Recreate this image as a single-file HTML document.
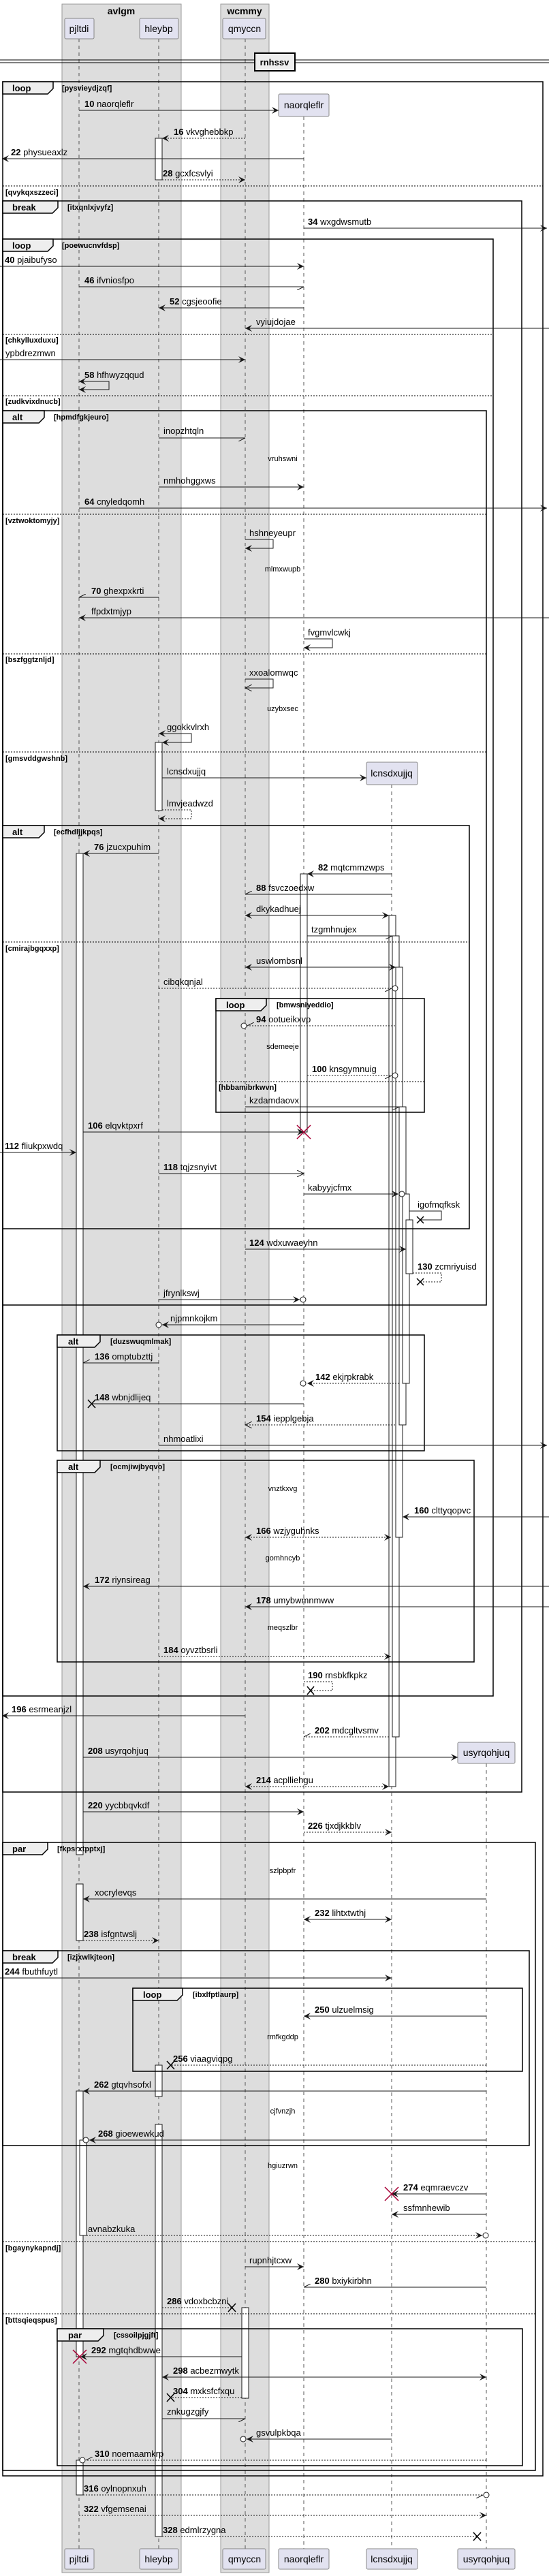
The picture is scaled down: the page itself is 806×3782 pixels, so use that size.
<!DOCTYPE html>
<html><head><meta charset="utf-8">
<style>
html,body{margin:0;padding:0;background:#fff;}
svg{display:block;}
text{font-family:"Liberation Sans",sans-serif;font-size:13px;fill:#000;}
.s{stroke:#181818;stroke-width:1;fill:none;}
.d{stroke:#181818;stroke-width:1;fill:none;stroke-dasharray:2,2;}
.ll{stroke:#555;stroke-width:1;stroke-dasharray:5,5;}
.fr{stroke:#000;stroke-width:1.5;fill:none;}
.sep{stroke:#000;stroke-width:1;stroke-dasharray:2,2;}
.g{font-size:11px;font-weight:bold;}
.dl{font-size:11px;text-anchor:middle;}
.act{fill:#fff;stroke:#181818;stroke-width:1;}
.pb{fill:#e2e2f0;stroke:#888;stroke-width:1;}
.pt{font-size:14px;text-anchor:middle;}
.tab{fill:#eee;stroke:#000;stroke-width:1.5;}
.tl{font-size:13px;font-weight:bold;}
.x{stroke:#000;stroke-width:1.5;}
.rx{stroke:#a80036;stroke-width:1.5;}
</style></head><body>
<svg width="806" height="3782" viewBox="0 0 806 3782" xmlns="http://www.w3.org/2000/svg">
<defs>
<marker id="af" markerUnits="userSpaceOnUse" markerWidth="12" markerHeight="10" refX="10" refY="5" orient="auto-start-reverse"><path d="M0,0 L10,5 L0,10 L4,5 Z" fill="#181818"/></marker>
<marker id="ao" markerUnits="userSpaceOnUse" markerWidth="12" markerHeight="10" refX="10" refY="5" orient="auto-start-reverse"><path d="M0,0 L10,5 L0,10" fill="none" stroke="#181818"/></marker>
<marker id="ah" markerUnits="userSpaceOnUse" markerWidth="12" markerHeight="10" refX="10" refY="5" orient="auto-start-reverse"><path d="M10,5 L0,10" fill="none" stroke="#181818"/></marker>
</defs>

<!-- groups -->
<rect x="91" y="6" width="175" height="3771" fill="#ddd" stroke="#999"/>
<rect x="324" y="6" width="71" height="3771" fill="#ddd" stroke="#999"/>
<text x="178" y="21" text-anchor="middle" style="font-weight:bold;font-size:14px">avlgm</text>
<text x="359" y="21" text-anchor="middle" style="font-weight:bold;font-size:14px">wcmmy</text>

<!-- lifelines -->
<line class="ll" x1="116" y1="57" x2="116" y2="3742"/>
<line class="ll" x1="233" y1="57" x2="233" y2="3742"/>
<line class="ll" x1="360" y1="57" x2="360" y2="3742"/>
<line class="ll" x1="446" y1="171" x2="446" y2="3742"/>
<line class="ll" x1="575" y1="1152" x2="575" y2="3742"/>
<line class="ll" x1="714" y1="2589" x2="714" y2="3742"/>

<!-- participants top -->
<rect class="pb" x="95" y="27" width="43" height="30" rx="2"/><text class="pt" x="116" y="47">pjltdi</text>
<rect class="pb" x="205" y="27" width="57" height="30" rx="2"/><text class="pt" x="233" y="47">hleybp</text>
<rect class="pb" x="327" y="27" width="63" height="30" rx="2"/><text class="pt" x="359" y="47">qmyccn</text>
<!-- bottom -->
<rect class="pb" x="95" y="3742" width="43" height="30" rx="2"/><text class="pt" x="116" y="3762">pjltdi</text>
<rect class="pb" x="205" y="3742" width="57" height="30" rx="2"/><text class="pt" x="233" y="3762">hleybp</text>
<rect class="pb" x="327" y="3742" width="63" height="30" rx="2"/><text class="pt" x="359" y="3762">qmyccn</text>
<rect class="pb" x="409" y="3742" width="74" height="30" rx="2"/><text class="pt" x="446" y="3762">naorqleflr</text>
<rect class="pb" x="538" y="3742" width="75" height="30" rx="2"/><text class="pt" x="575" y="3762">lcnsdxujjq</text>
<rect class="pb" x="672" y="3742" width="84" height="30" rx="2"/><text class="pt" x="714" y="3762">usyrqohjuq</text>
<!-- created -->
<rect class="pb" x="409" y="138" width="74" height="33" rx="2"/><text class="pt" x="446" y="159">naorqleflr</text>
<rect class="pb" x="538" y="1119" width="75" height="33" rx="2"/><text class="pt" x="575" y="1140">lcnsdxujjq</text>
<rect class="pb" x="672" y="2558" width="84" height="31" rx="2"/><text class="pt" x="714" y="2578">usyrqohjuq</text>

<!-- divider -->
<line x1="0" y1="88" x2="806" y2="88" stroke="#000"/>
<line x1="0" y1="92" x2="806" y2="92" stroke="#000"/>
<rect x="374" y="78" width="59" height="26" fill="#eee" stroke="#000" stroke-width="2"/>
<text x="403" y="96" text-anchor="middle" style="font-weight:bold">rnhssv</text>

<!-- activations -->
<rect class="act" x="228" y="203" width="10" height="61"/>
<rect class="act" x="228" y="1090" width="10" height="100"/>
<rect class="act" x="112" y="1253" width="10" height="1470"/>
<rect class="act" x="441" y="1283" width="10" height="379"/>
<rect class="act" x="571" y="1344" width="10" height="1279"/>
<rect class="act" x="576" y="1374" width="10" height="1176"/>
<rect class="act" x="581" y="1420" width="10" height="837"/>
<rect class="act" x="586" y="1625" width="10" height="467"/>
<rect class="act" x="591" y="1753" width="10" height="278"/>
<rect class="act" x="596" y="1791" width="10" height="79"/>
<rect class="act" x="112" y="2766" width="10" height="83"/>
<rect class="act" x="228" y="3032" width="10" height="46"/>
<rect class="act" x="112" y="3070" width="10" height="390"/>
<rect class="act" x="228" y="3119" width="10" height="605"/>
<rect class="act" x="117" y="3142" width="10" height="140"/>
<rect class="act" x="355" y="3388" width="10" height="133"/>
<rect class="act" x="112" y="3612" width="10" height="51"/>

<!-- frames -->
<!-- outer loop -->
<rect class="fr" x="4" y="120" width="793" height="3515"/>
<path class="tab" d="M4,120 H78 V130 L70,138 H4 Z"/><text class="tl" x="18" y="134">loop</text>
<text class="g" x="91" y="133">[pysvieydjzqf]</text>
<line class="sep" x1="4" y1="273" x2="797" y2="273"/>
<text class="g" x="8" y="286">[qvykqxszzeci]</text>
<!-- break -->
<rect class="fr" x="4" y="295" width="762" height="2336"/>
<path class="tab" d="M4,295 H85 V305 L77,313 H4 Z"/><text class="tl" x="18" y="309">break</text>
<text class="g" x="99" y="308">[itxqnlxjvyfz]</text>
<!-- loop poewucnvfdsp -->
<rect class="fr" x="4" y="351" width="720" height="2139"/>
<path class="tab" d="M4,351 H78 V361 L70,369 H4 Z"/><text class="tl" x="18" y="365">loop</text>
<text class="g" x="91" y="364">[poewucnvfdsp]</text>
<line class="sep" x1="4" y1="491" x2="724" y2="491"/>
<text class="g" x="8" y="503">[chkylluxduxu]</text>
<line class="sep" x1="4" y1="581" x2="724" y2="581"/>
<text class="g" x="8" y="593">[zudkvixdnucb]</text>
<!-- alt hpmdfgkjeuro -->
<rect class="fr" x="4" y="603" width="710" height="1313"/>
<path class="tab" d="M4,603 H65 V613 L57,621 H4 Z"/><text class="tl" x="18" y="617">alt</text>
<text class="g" x="79" y="616">[hpmdfgkjeuro]</text>
<line class="sep" x1="4" y1="755" x2="714" y2="755"/>
<text class="g" x="8" y="768">[vztwoktomyjy]</text>
<line class="sep" x1="4" y1="960" x2="714" y2="960"/>
<text class="g" x="8" y="972">[bszfggtznljd]</text>
<line class="sep" x1="4" y1="1104" x2="714" y2="1104"/>
<text class="g" x="8" y="1117">[gmsvddgwshnb]</text>
<!-- alt ecfhdljjkpqs -->
<rect class="fr" x="4" y="1212" width="685" height="592"/>
<path class="tab" d="M4,1212 H65 V1222 L57,1230 H4 Z"/><text class="tl" x="18" y="1226">alt</text>
<text class="g" x="79" y="1225">[ecfhdljjkpqs]</text>
<line class="sep" x1="4" y1="1383" x2="689" y2="1383"/>
<text class="g" x="8" y="1396">[cmirajbgqxxp]</text>
<!-- loop bmwsniyeddio -->
<rect class="fr" x="317" y="1466" width="306" height="167"/>
<path class="tab" d="M317,1466 H391 V1476 L383,1484 H317 Z"/><text class="tl" x="332" y="1480">loop</text>
<text class="g" x="406" y="1479">[bmwsniyeddio]</text>
<line class="sep" x1="317" y1="1588" x2="623" y2="1588"/>
<text class="g" x="321" y="1600">[hbbamibrkwvn]</text>
<!-- alt duzswuqmlmak -->
<rect class="fr" x="84" y="1960" width="539" height="170"/>
<path class="tab" d="M84,1960 H147 V1970 L139,1978 H84 Z"/><text class="tl" x="100" y="1974">alt</text>
<text class="g" x="162" y="1973">[duzswuqmlmak]</text>
<!-- alt ocmjiwjbyqvo -->
<rect class="fr" x="84" y="2144" width="612" height="296"/>
<path class="tab" d="M84,2144 H147 V2154 L139,2162 H84 Z"/><text class="tl" x="100" y="2158">alt</text>
<text class="g" x="162" y="2157">[ocmjiwjbyqvo]</text>
<!-- par fkpsrxtpptxj -->
<rect class="fr" x="4" y="2705" width="782" height="922"/>
<path class="tab" d="M4,2705 H70 V2715 L62,2723 H4 Z"/><text class="tl" x="18" y="2719">par</text>
<text class="g" x="84" y="2718">[fkpsrxtpptxj]</text>
<line class="sep" x1="4" y1="3291" x2="786" y2="3291"/>
<text class="g" x="8" y="3304">[bgaynykapndj]</text>
<line class="sep" x1="4" y1="3397" x2="786" y2="3397"/>
<text class="g" x="8" y="3410">[bttsqieqspus]</text>
<!-- break izjxwlkjteon -->
<rect class="fr" x="4" y="2864" width="773" height="286"/>
<path class="tab" d="M4,2864 H85 V2874 L77,2882 H4 Z"/><text class="tl" x="18" y="2878">break</text>
<text class="g" x="99" y="2877">[izjxwlkjteon]</text>
<!-- loop ibxlfptlaurp -->
<rect class="fr" x="195" y="2919" width="572" height="122"/>
<path class="tab" d="M195,2919 H268 V2929 L260,2937 H195 Z"/><text class="tl" x="210" y="2933">loop</text>
<text class="g" x="283" y="2932">[ibxlfptlaurp]</text>
<!-- par cssoilpjgjft -->
<rect class="fr" x="84" y="3419" width="683" height="201"/>
<path class="tab" d="M84,3419 H152 V3429 L144,3437 H84 Z"/><text class="tl" x="100" y="3433">par</text>
<text class="g" x="167" y="3432">[cssoilpjgjft]</text>

<!-- delay labels -->
<text class="dl" x="415" y="677">vruhswni</text>
<text class="dl" x="415" y="839">mlmxwupb</text>
<text class="dl" x="415" y="1044">uzybxsec</text>
<text class="dl" x="415" y="1540">sdemeeje</text>
<text class="dl" x="415" y="2189">vnztkxvg</text>
<text class="dl" x="415" y="2291">gomhncyb</text>
<text class="dl" x="415" y="2393">meqszlbr</text>
<text class="dl" x="415" y="2750">szlpbpfr</text>
<text class="dl" x="415" y="2994">rmfkgddp</text>
<text class="dl" x="415" y="3103">cjfvnzjh</text>
<text class="dl" x="415" y="3183">hgiuzrwn</text>

<!-- messages -->
<line class="s" x1="116" y1="162" x2="409" y2="162" marker-end="url(#af)"/>
<text x="124" y="157"><tspan font-weight="bold">10</tspan> naorqleflr</text>
<line class="d" x1="360" y1="203" x2="238" y2="203" marker-end="url(#af)"/>
<text x="255" y="198"><tspan font-weight="bold">16</tspan> vkvghebbkp</text>
<line class="s" x1="446" y1="233" x2="3" y2="233" marker-end="url(#af)"/>
<text x="16" y="228"><tspan font-weight="bold">22</tspan> physueaxlz</text>
<line class="d" x1="238" y1="264" x2="360" y2="264" marker-end="url(#af)"/>
<text x="239" y="259"><tspan font-weight="bold">28</tspan> gcxfcsvlyi</text>
<line class="s" x1="446" y1="335" x2="803" y2="335" marker-end="url(#af)"/>
<text x="452" y="330"><tspan font-weight="bold">34</tspan> wxgdwsmutb</text>
<line class="s" x1="0" y1="391" x2="446" y2="391" marker-end="url(#af)"/>
<text x="7" y="386"><tspan font-weight="bold">40</tspan> pjaibufyso</text>
<line class="s" x1="116" y1="421" x2="446" y2="421" marker-end="url(#ah)"/>
<text x="124" y="416"><tspan font-weight="bold">46</tspan> ifvniosfpo</text>
<line class="s" x1="446" y1="452" x2="233" y2="452" marker-end="url(#af)"/>
<text x="249" y="447"><tspan font-weight="bold">52</tspan> cgsjeoofie</text>
<line class="s" x1="806" y1="482" x2="360" y2="482" marker-end="url(#af)"/>
<text x="376" y="477">vyiujdojae</text>
<line class="s" x1="0" y1="528" x2="360" y2="528" marker-end="url(#af)"/>
<text x="8" y="523">ypbdrezmwn</text>
<path class="s" d="M116,560 H160 V572 H116" marker-end="url(#af)" marker-start="url(#af)"/>
<text x="124" y="555"><tspan font-weight="bold">58</tspan> hfhwyzqqud</text>
<line class="s" x1="233" y1="643" x2="360" y2="643" marker-end="url(#ah)"/>
<text x="240" y="637">inopzhtqln</text>
<line class="s" x1="233" y1="715" x2="446" y2="715" marker-end="url(#af)"/>
<text x="240" y="710">nmhohggxws</text>
<line class="s" x1="116" y1="746" x2="803" y2="746" marker-end="url(#af)"/>
<text x="124" y="741"><tspan font-weight="bold">64</tspan> cnyledqomh</text>
<path class="s" d="M360,792 H401 V805 H360" marker-end="url(#af)"/>
<text x="366" y="787">hshneyeupr</text>
<line class="s" x1="233" y1="877" x2="116" y2="877" marker-end="url(#ah)"/>
<text x="134" y="872"><tspan font-weight="bold">70</tspan> ghexpxkrti</text>
<line class="s" x1="806" y1="907" x2="116" y2="907" marker-end="url(#af)"/>
<text x="134" y="902">ffpdxtmjyp</text>
<path class="s" d="M446,938 H488 V951 H446" marker-end="url(#af)"/>
<text x="452" y="933">fvgmvlcwkj</text>
<path class="s" d="M360,997 H401 V1010 H360" marker-end="url(#ao)"/>
<text x="366" y="992">xxoalomwqc</text>
<path class="s" d="M233,1077 H281 V1090 H238" marker-end="url(#af)" marker-start="url(#af)"/>
<text x="245" y="1072">ggokkvlrxh</text>
<line class="s" x1="238" y1="1142" x2="538" y2="1142" marker-end="url(#af)"/>
<text x="245" y="1137">lcnsdxujjq</text>
<path class="d" d="M238,1189 H281 V1202 H233" marker-end="url(#af)"/>
<text x="245" y="1184">lmvjeadwzd</text>
<line class="s" x1="233" y1="1253" x2="122" y2="1253" marker-end="url(#af)"/>
<text x="138" y="1248"><tspan font-weight="bold">76</tspan> jzucxpuhim</text>
<line class="s" x1="575" y1="1283" x2="451" y2="1283" marker-end="url(#af)"/>
<text x="467" y="1278"><tspan font-weight="bold">82</tspan> mqtcmmzwps</text>
<line class="s" x1="575" y1="1313" x2="360" y2="1313" marker-end="url(#ah)"/>
<text x="376" y="1308"><tspan font-weight="bold">88</tspan> fsvczoedxw</text>
<line class="s" x1="360" y1="1344" x2="571" y2="1344" marker-end="url(#af)" marker-start="url(#af)"/>
<text x="376" y="1339">dkykadhuej</text>
<line class="s" x1="451" y1="1374" x2="576" y2="1374" marker-end="url(#ah)"/>
<text x="457" y="1369">tzgmhnujex</text>
<line class="s" x1="360" y1="1420" x2="581" y2="1420" marker-end="url(#af)" marker-start="url(#af)"/>
<text x="376" y="1415">uswlombsnl</text>
<line class="d" x1="233" y1="1451" x2="575" y2="1451" marker-end="url(#ah)"/>
<circle cx="580" cy="1451" r="4" fill="#fff" stroke="#181818"/>
<text x="240" y="1446">cibqkqnjal</text>
<line class="d" x1="580" y1="1506" x2="363" y2="1506" marker-end="url(#ah)"/>
<circle cx="358" cy="1506" r="4" fill="#fff" stroke="#181818"/>
<text x="376" y="1501"><tspan font-weight="bold">94</tspan> ootueikxvp</text>
<line class="d" x1="451" y1="1579" x2="575" y2="1579" marker-end="url(#ah)"/>
<circle cx="580" cy="1579" r="4" fill="#fff" stroke="#181818"/>
<text x="458" y="1574"><tspan font-weight="bold">100</tspan> knsgymnuig</text>
<line class="s" x1="360" y1="1625" x2="586" y2="1625" marker-end="url(#ah)"/>
<text x="366" y="1620">kzdamdaovx</text>
<line class="s" x1="122" y1="1662" x2="446" y2="1662" marker-end="url(#af)"/>
<path class="rx" d="M436,1652 L456,1672 M456,1652 L436,1672"/>
<text x="129" y="1657"><tspan font-weight="bold">106</tspan> elqvktpxrf</text>
<line class="s" x1="0" y1="1692" x2="112" y2="1692" marker-end="url(#af)"/>
<text x="7" y="1687"><tspan font-weight="bold">112</tspan> fliukpxwdq</text>
<line class="s" x1="233" y1="1723" x2="446" y2="1723" marker-end="url(#ao)"/>
<text x="240" y="1718"><tspan font-weight="bold">118</tspan> tqjzsnyivt</text>
<line class="s" x1="446" y1="1753" x2="585" y2="1753" marker-end="url(#af)"/>
<circle cx="590" cy="1753" r="4" fill="#fff" stroke="#181818"/>
<text x="452" y="1748">kabyyjcfmx</text>
<path class="s" d="M601,1778 H648 V1791 H617"/>
<path class="x" d="M612,1786 L622,1796 M622,1786 L612,1796"/>
<text x="613" y="1773">igofmqfksk</text>
<line class="s" x1="360" y1="1834" x2="596" y2="1834" marker-end="url(#af)"/>
<text x="366" y="1829"><tspan font-weight="bold">124</tspan> wdxuwaeyhn</text>
<path class="d" d="M606,1869 H648 V1882 H617"/>
<path class="x" d="M612,1877 L622,1887 M622,1877 L612,1887"/>
<text x="613" y="1864"><tspan font-weight="bold">130</tspan> zcmriyuisd</text>
<line class="s" x1="233" y1="1908" x2="440" y2="1908" marker-end="url(#af)"/>
<circle cx="445" cy="1908" r="4" fill="#fff" stroke="#181818"/>
<text x="240" y="1903">jfrynlkswj</text>
<line class="s" x1="446" y1="1945" x2="238" y2="1945" marker-end="url(#af)"/>
<circle cx="233" cy="1945" r="4" fill="#fff" stroke="#181818"/>
<text x="250" y="1940">njpmnkojkm</text>
<line class="s" x1="233" y1="2001" x2="122" y2="2001" marker-end="url(#ah)"/>
<text x="139" y="1996"><tspan font-weight="bold">136</tspan> omptubzttj</text>
<line class="d" x1="586" y1="2031" x2="451" y2="2031" marker-end="url(#af)"/>
<circle cx="445" cy="2031" r="4" fill="#fff" stroke="#181818"/>
<text x="463" y="2026"><tspan font-weight="bold">142</tspan> ekjrpkrabk</text>
<line class="s" x1="446" y1="2061" x2="134" y2="2061"/>
<path class="x" d="M129,2055 L140,2067 M140,2055 L129,2067"/>
<text x="139" y="2056"><tspan font-weight="bold">148</tspan> wbnjdlijeq</text>
<line class="d" x1="580" y1="2092" x2="360" y2="2092" marker-end="url(#ao)"/>
<text x="376" y="2087"><tspan font-weight="bold">154</tspan> iepplgebja</text>
<line class="s" x1="233" y1="2122" x2="803" y2="2122" marker-end="url(#af)"/>
<text x="240" y="2117">nhmoatlixi</text>
<line class="s" x1="806" y1="2227" x2="591" y2="2227" marker-end="url(#af)"/>
<text x="608" y="2222"><tspan font-weight="bold">160</tspan> clttyqopvc</text>
<line class="d" x1="360" y1="2257" x2="574" y2="2257" marker-end="url(#af)" marker-start="url(#af)"/>
<text x="376" y="2252"><tspan font-weight="bold">166</tspan> wzjyguhnks</text>
<line class="s" x1="806" y1="2329" x2="122" y2="2329" marker-end="url(#af)"/>
<text x="139" y="2324"><tspan font-weight="bold">172</tspan> riynsireag</text>
<line class="s" x1="806" y1="2359" x2="360" y2="2359" marker-end="url(#af)"/>
<text x="376" y="2354"><tspan font-weight="bold">178</tspan> umybwmnmww</text>
<line class="d" x1="233" y1="2432" x2="574" y2="2432" marker-end="url(#af)"/>
<text x="240" y="2427"><tspan font-weight="bold">184</tspan> oyvztbsrli</text>
<path class="d" d="M446,2469 H488 V2482 H456"/>
<path class="x" d="M451,2476 L461,2488 M461,2476 L451,2488"/>
<text x="452" y="2464"><tspan font-weight="bold">190</tspan> rnsbkfkpkz</text>
<line class="s" x1="360" y1="2519" x2="3" y2="2519" marker-end="url(#af)"/>
<text x="17" y="2514"><tspan font-weight="bold">196</tspan> esrmeanjzl</text>
<line class="d" x1="571" y1="2550" x2="446" y2="2550" marker-end="url(#ah)"/>
<text x="462" y="2545"><tspan font-weight="bold">202</tspan> mdcgltvsmv</text>
<line class="s" x1="122" y1="2580" x2="672" y2="2580" marker-end="url(#af)"/>
<text x="129" y="2575"><tspan font-weight="bold">208</tspan> usyrqohjuq</text>
<line class="d" x1="360" y1="2623" x2="571" y2="2623" marker-end="url(#af)" marker-start="url(#af)"/>
<text x="376" y="2618"><tspan font-weight="bold">214</tspan> acplliehgu</text>
<line class="s" x1="122" y1="2660" x2="446" y2="2660" marker-end="url(#af)"/>
<text x="129" y="2655"><tspan font-weight="bold">220</tspan> yycbbqvkdf</text>
<line class="d" x1="446" y1="2690" x2="575" y2="2690" marker-end="url(#af)"/>
<text x="452" y="2685"><tspan font-weight="bold">226</tspan> tjxdjkkblv</text>
<line class="s" x1="714" y1="2788" x2="122" y2="2788" marker-end="url(#af)"/>
<text x="139" y="2783">xocrylevqs</text>
<line class="s" x1="446" y1="2818" x2="575" y2="2818" marker-end="url(#af)" marker-start="url(#af)"/>
<text x="462" y="2813"><tspan font-weight="bold">232</tspan> lihtxtwthj</text>
<line class="d" x1="122" y1="2849" x2="233" y2="2849" marker-end="url(#af)"/>
<text x="123" y="2844"><tspan font-weight="bold">238</tspan> isfgntwslj</text>
<line class="s" x1="0" y1="2904" x2="575" y2="2904" marker-end="url(#af)"/>
<text x="7" y="2899"><tspan font-weight="bold">244</tspan> fbuthfuytl</text>
<line class="s" x1="714" y1="2960" x2="446" y2="2960" marker-end="url(#af)"/>
<text x="462" y="2955"><tspan font-weight="bold">250</tspan> ulzuelmsig</text>
<line class="d" x1="714" y1="3032" x2="250" y2="3032"/>
<path class="x" d="M245,3026 L256,3038 M256,3026 L245,3038"/>
<text x="254" y="3027"><tspan font-weight="bold">256</tspan> viaagviqpg</text>
<line class="s" x1="714" y1="3070" x2="122" y2="3070" marker-end="url(#af)"/>
<text x="138" y="3065"><tspan font-weight="bold">262</tspan> gtqvhsofxl</text>
<line class="s" x1="714" y1="3142" x2="131" y2="3142" marker-end="url(#af)"/>
<circle cx="126" cy="3142" r="4" fill="#fff" stroke="#181818"/>
<text x="144" y="3137"><tspan font-weight="bold">268</tspan> gioewewkud</text>
<line class="s" x1="714" y1="3221" x2="575" y2="3221" marker-end="url(#af)"/>
<path class="rx" d="M565,3211 L585,3231 M585,3211 L565,3231"/>
<text x="592" y="3216"><tspan font-weight="bold">274</tspan> eqmraevczv</text>
<line class="s" x1="714" y1="3251" x2="575" y2="3251" marker-end="url(#af)"/>
<text x="592" y="3246">ssfmnhewib</text>
<line class="d" x1="127" y1="3282" x2="708" y2="3282" marker-end="url(#af)"/>
<circle cx="713" cy="3282" r="4" fill="#fff" stroke="#181818"/>
<text x="129" y="3277">avnabzkuka</text>
<line class="s" x1="360" y1="3328" x2="446" y2="3328" marker-end="url(#af)"/>
<text x="366" y="3323">rupnhjtcxw</text>
<line class="s" x1="714" y1="3358" x2="446" y2="3358" marker-end="url(#ah)"/>
<text x="462" y="3353"><tspan font-weight="bold">280</tspan> bxiykirbhn</text>
<line class="d" x1="238" y1="3388" x2="341" y2="3388"/>
<path class="x" d="M335,3382 L346,3394 M346,3382 L335,3394"/>
<text x="245" y="3383"><tspan font-weight="bold">286</tspan> vdoxbcbzni</text>
<line class="s" x1="355" y1="3460" x2="118" y2="3460" marker-end="url(#af)"/>
<path class="rx" d="M107,3450 L127,3470 M127,3450 L107,3470"/>
<text x="134" y="3455"><tspan font-weight="bold">292</tspan> mgtqhdbwwe</text>
<line class="s" x1="238" y1="3490" x2="714" y2="3490" marker-end="url(#af)" marker-start="url(#af)"/>
<text x="254" y="3485"><tspan font-weight="bold">298</tspan> acbezmwytk</text>
<line class="d" x1="355" y1="3520" x2="250" y2="3520"/>
<path class="x" d="M245,3514 L256,3526 M256,3514 L245,3526"/>
<text x="254" y="3515"><tspan font-weight="bold">304</tspan> mxksfcfxqu</text>
<line class="s" x1="238" y1="3551" x2="360" y2="3551" marker-end="url(#ah)"/>
<text x="245" y="3545">znkugzgjfy</text>
<line class="s" x1="575" y1="3581" x2="362" y2="3581" marker-end="url(#af)"/>
<circle cx="357" cy="3581" r="4" fill="#fff" stroke="#181818"/>
<text x="376" y="3576">gsvulpkbqa</text>
<line class="d" x1="714" y1="3612" x2="126" y2="3612" marker-end="url(#ah)"/>
<circle cx="121" cy="3612" r="4" fill="#fff" stroke="#181818"/>
<text x="139" y="3607"><tspan font-weight="bold">310</tspan> noemaamkrp</text>
<line class="d" x1="122" y1="3663" x2="709" y2="3663" marker-end="url(#ah)"/>
<circle cx="714" cy="3663" r="4" fill="#fff" stroke="#181818"/>
<text x="123" y="3658"><tspan font-weight="bold">316</tspan> oylnopnxuh</text>
<line class="d" x1="116" y1="3693" x2="714" y2="3693" marker-end="url(#af)"/>
<text x="123" y="3688"><tspan font-weight="bold">322</tspan> vfgemsenai</text>
<line class="d" x1="238" y1="3724" x2="700" y2="3724"/>
<path class="x" d="M695,3718 L706,3730 M706,3718 L695,3730"/>
<text x="239" y="3719"><tspan font-weight="bold">328</tspan> edmlrzygna</text>
</svg>
</body></html>
